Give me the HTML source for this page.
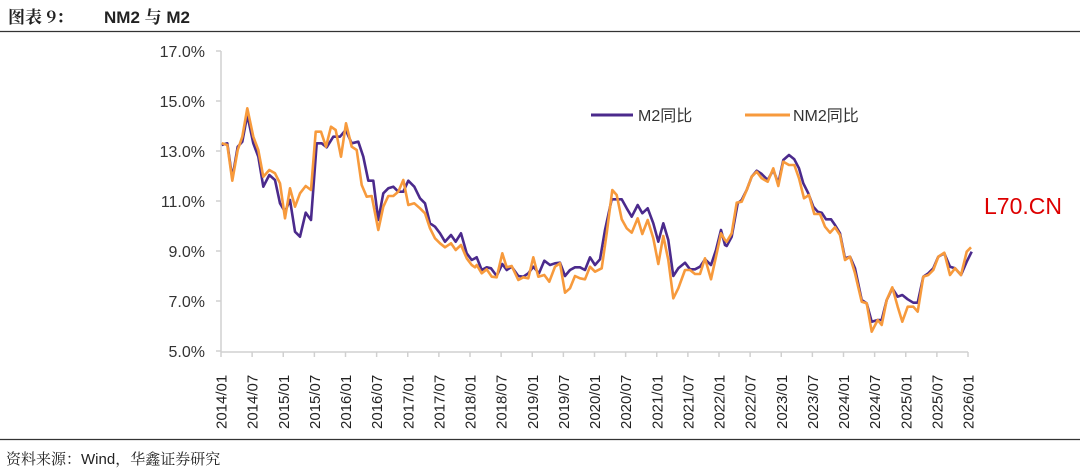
<!DOCTYPE html>
<html><head><meta charset="utf-8"><style>
body{margin:0;background:#fff;width:1080px;height:471px;overflow:hidden}
svg{display:block}
</style></head><body>
<svg id="s" width="1080" height="471" xmlns="http://www.w3.org/2000/svg" font-family="Liberation Sans, Noto Sans CJK SC, sans-serif">
<text x="8" y="23" font-size="17" font-weight="bold" fill="#222" font-family="Noto Serif CJK SC, serif">图表 9：</text>
<text x="104" y="23" font-size="17" font-weight="bold" fill="#222">NM2 <tspan font-family="Noto Serif CJK SC, serif">与</tspan> M2</text>
<line x1="0" y1="31.5" x2="1080" y2="31.5" stroke="#333" stroke-width="1.2"/>
<line x1="0" y1="439.5" x2="1080" y2="439.5" stroke="#333" stroke-width="1.2"/>
<text x="6" y="464" font-size="15" fill="#222" font-family="Noto Serif CJK SC, serif">资料来源：<tspan font-family="Liberation Sans">Wind</tspan>，华鑫证券研究</text>
<g id="ax" stroke="#d0d0d0" stroke-width="1.5" fill="none"></g>
<g id="yl" font-size="16" fill="#333" text-anchor="end"></g>
<g id="xl" font-size="15" fill="#222"></g>
<polyline id="m2" fill="none" stroke="#4b2a8c" stroke-width="2.6" stroke-linejoin="round"/>
<polyline id="nm2" fill="none" stroke="#f79a3c" stroke-width="2.6" stroke-linejoin="round"/>
<line x1="591" y1="115" x2="633" y2="115" stroke="#4b2a8c" stroke-width="3"/>
<text x="638" y="121" font-size="16" fill="#333">M2同比</text>
<line x1="745" y1="115" x2="790" y2="115" stroke="#f79a3c" stroke-width="3"/>
<text x="793" y="121" font-size="16" fill="#333">NM2同比</text>
<text x="984" y="214" font-size="23" fill="#d00">L70.CN</text>
</svg>
<script>
var X0=221,DX=747/144;function xp(i){return X0+i*DX}function yp(v){return 351-(v-5)*25}
var ns="http://www.w3.org/2000/svg";
function el(t,a,p,txt){var e=document.createElementNS(ns,t);for(var k in a)e.setAttribute(k,a[k]);if(txt)e.textContent=txt;document.getElementById(p).appendChild(e);return e}
el('line',{x1:221,y1:51,x2:221,y2:352},'ax');el('line',{x1:221,y1:352,x2:968,y2:352},'ax');
for(var v=5;v<=17;v+=2){el('line',{x1:216,y1:yp(v),x2:221,y2:yp(v)},'ax');el('text',{x:205,y:yp(v)+6},'yl',v.toFixed(1)+'%')}
for(var i=0;i<=24;i++){var x=xp(i*6);el('line',{x1:x,y1:352,x2:x,y2:357},'ax');
var yr=2014+Math.floor(i/2),m=i%2?'07':'01';el('text',{x:0,y:0,transform:'translate('+(x+5.5)+',429) rotate(-90)'},'xl',yr+'/'+m)}
function seg(arr,ox,oy,minzx){var r=[];for(var i=0;i<arr.length;i+=2){if(arr[i]<minzx)continue;r.push((ox+arr[i]/3).toFixed(1)+','+(oy+arr[i+1]/3).toFixed(1))}return r}
var m1=[20,165,37,160,52,265,68,170,82,155,97,75,115,160,130,200,145,290,163,255,180,270,195,340,210,365,225,330,240,425,255,440,272,368,288,390,305,160,320,160,335,172,355,140,375,140,392,120,410,160,430,155,445,200,460,272,475,272,490,390,505,310,520,295,535,290,550,305,565,305,580,272,598,290,615,325,630,340,645,400,660,410,675,430,690,455,708,435,722,455,738,430,755,490,770,510,780,505];
var n1=[20,160,37,165,52,272,68,180,82,140,97,55,115,140,130,180,145,260,163,240,180,250,195,280,210,385,225,295,240,350,255,310,272,288,288,300,302,125,318,125,333,170,348,110,362,120,378,200,393,100,410,170,425,180,440,285,455,320,470,318,490,420,505,350,520,318,535,318,550,305,565,270,580,345,598,340,615,355,630,370,645,415,660,445,675,460,690,472,708,460,722,480,738,465,755,505,770,525,780,532];
var m2=[0,210,10,240,22,270,35,262,50,300,65,292,78,295,95,318,112,282,125,300,140,290,160,318,175,320,190,310,205,290,222,310,238,272,255,285,270,280,285,278,300,318,315,300,330,292,345,292,360,300,375,262,390,285,405,268,420,180,440,88,455,88,470,88,485,115,500,140,518,105,532,130,548,115,565,160,580,215,595,160,610,210,625,318,640,295,660,278,675,298,690,298,705,290,720,268,738,285,753,240,768,180,780,225];
var n2=[0,250,15,270,35,285,50,310,65,298,80,320,95,322,112,250,125,292,140,288,160,330,175,322,190,325,205,262,220,320,238,315,253,335,270,290,285,280,300,368,315,355,330,318,345,325,360,328,375,290,390,305,410,295,425,190,442,60,455,75,470,148,485,175,500,188,518,145,532,192,548,150,565,205,580,282,595,198,610,270,625,385,640,355,660,300,675,300,690,312,705,312,720,265,738,328,753,260,768,190,780,210];
var m3=[0,360,18,270,35,318,50,290,68,190,80,180,95,150,110,110,125,92,140,102,158,120,175,90,190,130,205,60,222,45,238,58,252,85,265,130,280,160,295,200,308,215,320,218,333,238,348,238,360,255,375,280,390,355,405,350,420,385,440,480,455,490,470,545,488,540,500,540,515,480,532,445,548,470,562,465,578,478,595,488,608,488,625,410,640,400,655,385,670,350,688,340,705,380,720,385,738,405,755,365,770,335];
var n3=[0,380,18,270,35,305,50,280,65,188,80,185,95,150,110,110,125,95,140,115,158,125,175,85,190,138,205,65,222,75,238,75,252,115,267,175,282,165,298,222,315,222,330,260,345,278,360,262,375,285,390,360,405,350,420,400,440,485,455,490,470,575,488,540,500,555,515,480,532,442,548,500,562,545,578,500,595,500,608,515,625,410,640,405,655,390,670,350,688,338,705,405,720,385,738,405,755,335,768,322];
var A=seg(m1,215,90,0).concat(seg(m2,465,170,30),seg(m3,715,140,30));
var B=seg(n1,215,90,0).concat(seg(n2,465,170,30),seg(n3,715,140,30));
document.getElementById('m2').setAttribute('points',A.join(' '));document.getElementById('nm2').setAttribute('points',B.join(' '));
</script>
</body></html>
